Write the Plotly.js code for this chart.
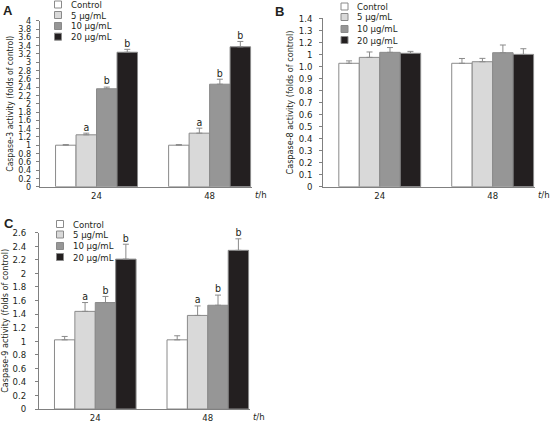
<!DOCTYPE html>
<html>
<head>
<meta charset="utf-8">
<script src="https://cdn.plot.ly/plotly-3.0.1.min.js"></script>
<style>html,body{margin:0;padding:0;background:#fff;}#chart{width:551px;height:423px;}</style>
</head>
<body>
<div id="chart"></div>
<script>
// ---------- data ----------
const times = ['24', '48'];
const doseNames = ['Control', '5 μg/mL', '10 μg/mL', '20 μg/mL'];
const doseColors = ['#ffffff', '#d9d9d9', '#969696', '#231f20'];

// Panel A: caspase-3 (rows = dose, columns = time)
const casp3Mean = [[1.00, 1.00], [1.25, 1.29], [2.36, 2.47], [3.24, 3.37]];
const casp3Err  = [[0.015, 0.015], [0.04, 0.12], [0.04, 0.12], [0.07, 0.13]];
const casp3Sig  = [['', ''], ['a', 'a'], ['b', 'b'], ['b', 'b']];

// Panel B: caspase-8
const casp8Mean = [[1.026, 1.026], [1.075, 1.039], [1.117, 1.114], [1.109, 1.100]];
const casp8Err  = [[0.02, 0.04], [0.045, 0.028], [0.04, 0.064], [0.016, 0.047]];
const casp8Sig  = [['', ''], ['', ''], ['', ''], ['', '']];
const casp8TickVals = [0, 0.1, 0.2, 0.3, 0.4, 0.5, 0.6, 0.7, 0.8, 0.9, 1.0, 1.1, 1.2, 1.3, 1.4];
const casp8TickText = ['0', '0.1', '0.2', '0.3', '0.4', '0.5', '0.6', '0.7', '0.8', '0.9', '1.0', '1', '1.2', '1.3', '1.4'];

// Panel C: caspase-9
const casp9Mean = [[1.02, 1.02], [1.44, 1.38], [1.57, 1.53], [2.21, 2.34]];
const casp9Err  = [[0.05, 0.06], [0.13, 0.14], [0.09, 0.15], [0.22, 0.17]];
const casp9Sig  = [['', ''], ['a', 'a'], ['b', 'b'], ['b', 'b']];

// ---------- styling ----------
const FONT = 'DejaVu Sans Condensed, Liberation Sans, Arial, sans-serif';
const TXT = '#231f20';
const AX = '#808080';
const W = 551, H = 423;
const px = v => v / W;
const py = v => 1 - v / H;

const panels = [
  {xa: 'x',  ya: 'y',  mean: casp3Mean, err: casp3Err, sig: casp3Sig},
  {xa: 'x2', ya: 'y2', mean: casp8Mean, err: casp8Err, sig: casp8Sig},
  {xa: 'x3', ya: 'y3', mean: casp9Mean, err: casp9Err, sig: casp9Sig}
];

const traces = [];
panels.forEach((p, pi) => {
  doseNames.forEach((name, di) => {
    traces.push({
      type: 'bar', x: times, y: p.mean[di], name: name,
      xaxis: p.xa, yaxis: p.ya, offsetgroup: String(di), showlegend: false,
      marker: {color: doseColors[di], line: {color: '#8a8a8a', width: 1}},
      error_y: {type: 'data', symmetric: false, array: p.err[di],
                arrayminus: p.err[di].map(() => 0),
                color: '#8a8a8a', thickness: 1, width: 3},
      hoverinfo: 'skip'
    });
    traces.push({
      type: 'scatter', mode: 'text', x: times,
      y: p.mean[di].map((v, i) => v + p.err[di][i]),
      text: p.sig[di], textposition: 'top center',
      textfont: {family: FONT, size: 10.5, color: TXT},
      xaxis: p.xa, yaxis: p.ya, offsetgroup: String(di), showlegend: false,
      hoverinfo: 'skip', cliponaxis: false
    });
  });
});

function xAxis(domain, anchor) {
  return {domain: domain, anchor: anchor, type: 'category', range: [-0.5, 1.375],
          showline: true, linecolor: AX, linewidth: 1, ticks: '', showgrid: false,
          zeroline: false, tickfont: {family: FONT, size: 9.5, color: TXT}, fixedrange: true};
}
function yAxis(domain, anchor, range, title, titleSize, standoff, tickSize, extra) {
  return Object.assign({domain: domain, anchor: anchor, range: range,
          showline: true, linecolor: AX, linewidth: 1, ticks: 'outside', ticklen: 3,
          tickcolor: AX, showgrid: false, zeroline: false, ticklabelstandoff: standoff,
          tickfont: {family: FONT, size: tickSize, color: TXT},
          title: {text: title, font: {family: FONT, size: titleSize, color: TXT}, standoff: 3},
          fixedrange: true}, extra);
}

// manual legends (compact, like the original)
const legendSpecs = [
  {sx: 54.5, tx: 69, rows: [4.5, 15, 26, 36.7]},
  {sx: 341, tx: 355, rows: [6.5, 17, 29, 40]},
  {sx: 56.5, tx: 70.5, rows: [224, 234.5, 246, 257]}
];
const shapes = [];
const annotations = [];
legendSpecs.forEach(L => {
  doseNames.forEach((name, di) => {
    const cy = L.rows[di];
    shapes.push({type: 'rect', xref: 'paper', yref: 'paper',
      x0: px(L.sx), x1: px(L.sx + 7), y0: py(cy + 3.5), y1: py(cy - 3.5),
      fillcolor: doseColors[di], line: {color: '#8a8a8a', width: 1}});
    annotations.push({xref: 'paper', yref: 'paper', x: px(L.tx), y: py(cy),
      xanchor: 'left', yanchor: 'middle', showarrow: false, text: name,
      font: {family: FONT, size: 9.5, color: TXT}});
  });
});
[['A', 1, 1], ['B', 273, 2], ['C', 2, 214]].forEach(([t, x, y]) => {
  annotations.push({xref: 'paper', yref: 'paper', x: px(x), y: py(y), xanchor: 'left', yanchor: 'top',
    showarrow: false, text: '<b>' + t + '</b>', font: {family: 'Liberation Sans, Arial, sans-serif', size: 13, color: TXT}});
});
[['x domain', 'y domain'], ['x2 domain', 'y2 domain'], ['x3 domain', 'y3 domain']].forEach(([xr, yr]) => {
  annotations.push({xref: xr, yref: yr, x: 1, y: 0, xanchor: 'left', yanchor: 'top', xshift: 1, yshift: 0,
    showarrow: false, text: '<i>t</i>/h', font: {family: FONT, size: 9.5, color: TXT}});
});

const layout = {
  width: W, height: H, margin: {l: 0, r: 0, t: 0, b: 0},
  paper_bgcolor: '#fff', plot_bgcolor: '#fff', showlegend: false,
  barmode: 'group', bargap: 0.275, bargroupgap: 0,
  scattermode: 'group', scattergap: 0.275,
  font: {family: FONT, size: 9.5, color: TXT},
  xaxis:  xAxis([px(40), px(252)], 'y'),
  yaxis:  yAxis([py(186.7), py(20.7)], 'x', [0, 4], 'Caspase-3 activity (folds of control)', 8.5, 3, 9, {dtick: 0.2, tick0: 0}),
  xaxis2: xAxis([px(323.3), px(535)], 'y2'),
  yaxis2: yAxis([py(186.7), py(18.3)], 'x2', [0, 1.4], 'Caspase-8 activity (folds of control)', 9, 5, 9.5, {tickmode: 'array', tickvals: casp8TickVals, ticktext: casp8TickText}),
  xaxis3: xAxis([px(39), px(250)], 'y3'),
  yaxis3: yAxis([py(409), py(232.7)], 'x3', [0, 2.6], 'Caspase-9 activity (folds of control)', 9, 7, 9.5, {dtick: 0.2, tick0: 0}),
  shapes: shapes, annotations: annotations
};

Plotly.newPlot('chart', traces, layout, {staticPlot: true, displayModeBar: false});
</script>
</body>
</html>
